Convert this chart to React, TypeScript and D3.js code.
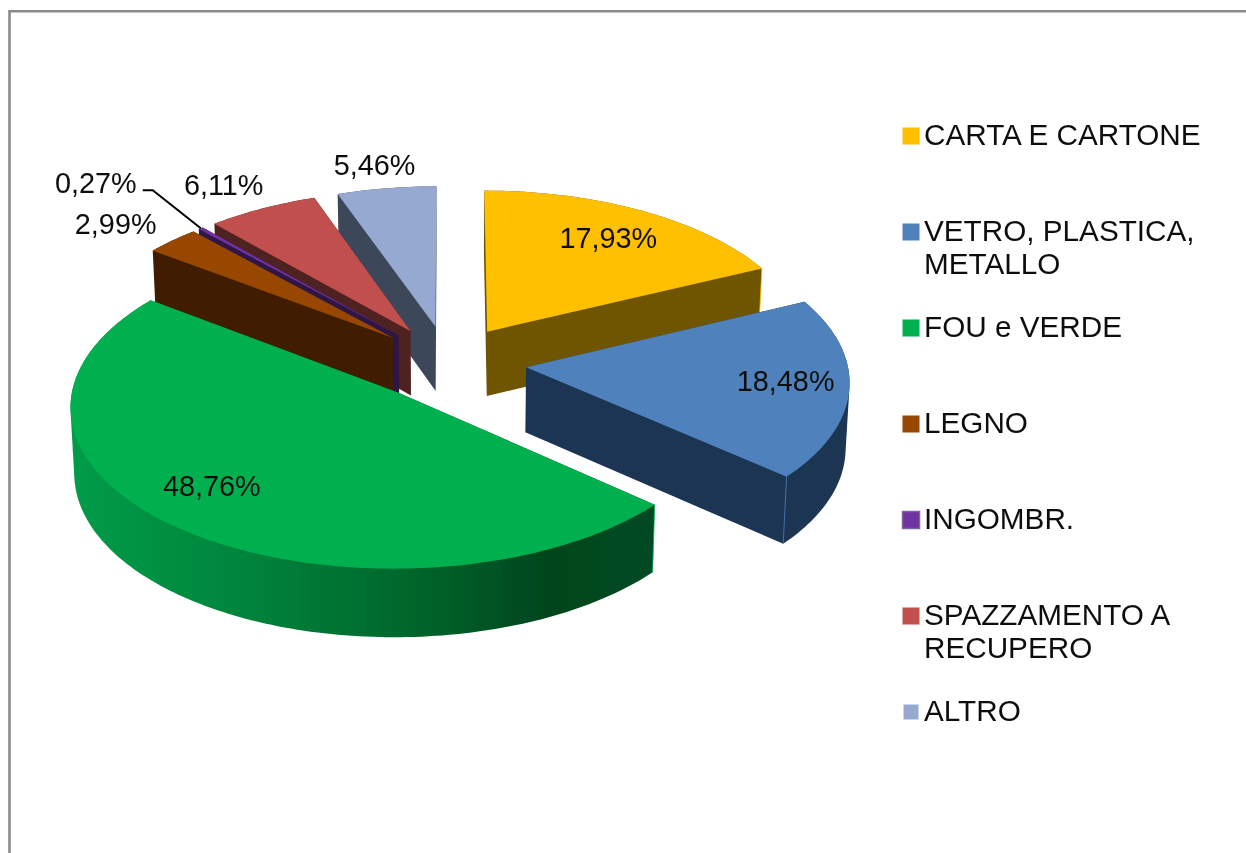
import React from "react";
import * as d3 from "d3";

const categories = ["CARTA E CARTONE", "VETRO, PLASTICA,|METALLO", "FOU e VERDE", "LEGNO", "INGOMBR.", "SPAZZAMENTO A|RECUPERO", "ALTRO"];
const shares = [17.93, 18.48, 48.76, 2.99, 0.27, 6.11, 5.46];
const explode = [0.232, 0.245, 0.245, 0.232, 0.232, 0.232, 0.232];
const topColors = ["#FFC000", "#4F81BD", "#00B050", "#974706", "#7030A0", "#C0504D", "#95A9D1"];
const wallColors = ["#6F5400", "#1F3552", "url(#greenWall)", "#3F1D00", "#2F1444", "#502120", "#3D475A"];
// label spot: radius along the slice bisector, then a small nudge
const labelRadius = [0.7, 0.7, 0.7, 1.2, 1.2, 1.2, 1.2];
const labelNudge = [[10, 2], [34, 9], [-34, 11], [-15, 12], [-68, -15], [-11, 9], [-3, 12]];
// back to front
const drawOrder = [6, 5, 4, 3, 0, 1, 2];

const W = 1246;
const H = 853;
const FONT = "'Liberation Sans', Arial, sans-serif";

// ground plane -> screen, with a bit of perspective towards the viewer
const cx = 448;
const cy = 362;
const Rx = 321;
const Ry = 157;
const persp = 0.08;
const depth = 65;

type Pt = [number, number];

const project = (u: number, v: number, bottom = false): Pt => {
  const w = 1 - persp * v;
  const x = cx + (Rx * u) / w;
  const y = cy + (Ry * v) / w;
  if (!bottom) return [x, y];
  return [cx + (x - cx) * 0.99, y + depth + 3 * v];
};

const polar = (a: number, r: number, e: number): Pt =>
  project((r + e) * Math.sin(a), -(r + e) * Math.cos(a));

// apex of an exploded slice
const apex = (mid: number, e: number, bottom = false): Pt =>
  project(e * Math.sin(mid), -e * Math.cos(mid), bottom);

const rimPoint = (a: number, mid: number, e: number, bottom = false): Pt =>
  project(Math.sin(a) + e * Math.sin(mid), -Math.cos(a) - e * Math.cos(mid), bottom);

const line = d3.line<Pt>();
const closed = (pts: Pt[]) => (line(pts) as string) + "Z";

const pie = d3.pie<number>().sort(null).value((d) => d).startAngle(0).endAngle(2 * Math.PI);
const arcs = pie(shares);

const angleSteps = (a0: number, a1: number) => {
  const n = Math.max(2, Math.ceil((a1 - a0) / 0.02));
  return d3.range(n + 1).map((i) => a0 + ((a1 - a0) * i) / n);
};

// only the corners on the front right catch the light
const litCorner = (a: number) => a > 1 && a < Math.PI;

const legendY = d3.scalePoint<string>().domain(categories).range([145, 721]);
const pct = (d: number) => d.toFixed(2).replace(".", ",") + "%";

const App: React.FC = () => {
  return (
    <svg width={W} height={H} style={{ position: "absolute", left: 0, top: 0, background: "#fff" }}>
      <defs>
        <linearGradient id="greenWall" gradientUnits="userSpaceOnUse" x1={70} x2={654} y1={0} y2={0}>
          <stop offset="0" stopColor="#019C49" />
          <stop offset="0.3" stopColor="#00843C" />
          <stop offset="0.62" stopColor="#006229" />
          <stop offset="0.82" stopColor="#00451E" />
          <stop offset="1" stopColor="#004A21" />
        </linearGradient>
        {/* the source is a resampled screenshot, so edges are a little soft */}
        <filter id="soft" x="0" y="0" width="100%" height="100%" filterUnits="userSpaceOnUse">
          <feGaussianBlur stdDeviation="0.4" />
        </filter>
      </defs>

      <g filter="url(#soft)">
        <path d="M9.5,853V11.3H1246" fill="none" stroke="#8A8A8A" strokeWidth={2.6} />

        {drawOrder.map((i) => {
          const a = arcs[i];
          const mid = (a.startAngle + a.endAngle) / 2;
          const e = explode[i];
          const steps = angleSteps(a.startAngle, a.endAngle);
          const topRim = steps.map((t) => rimPoint(t, mid, e));
          const botRim = steps.map((t) => rimPoint(t, mid, e, true));
          const A = apex(mid, e);
          const B = apex(mid, e, true);
          // every slice is under 180 degrees, so the hull is the whole solid
          const hull = d3.polygonHull([A, B, ...topRim, ...botRim]) as Pt[];
          const last = steps.length - 1;
          return (
            <g key={i}>
              <path d={closed(hull)} fill={wallColors[i]} />
              {[0, last]
                .filter((k) => litCorner(steps[k]))
                .map((k) => (
                  <path key={k} d={line([topRim[k], botRim[k]]) as string} stroke={topColors[i]} strokeWidth={0.8} fill="none" />
                ))}
              <path d={closed([A, ...topRim])} fill={topColors[i]} />
            </g>
          );
        })}

        {arcs.map((a, i) => {
          const mid = (a.startAngle + a.endAngle) / 2;
          const [x, y] = polar(mid, labelRadius[i], explode[i]);
          const lx = x + labelNudge[i][0];
          const ly = y + labelNudge[i][1];
          return (
            <g key={i}>
              {i === 4 && (
                <path
                  d={line([[lx + 47, ly - 3], [lx + 57, ly - 3], rimPoint(mid, mid, explode[i])]) as string}
                  fill="none"
                  stroke="#000"
                  strokeWidth={2}
                />
              )}
              <text x={lx} y={ly} textAnchor="middle" fontFamily={FONT} fontSize={28.8} fill="#111">
                {pct(shares[i])}
              </text>
            </g>
          );
        })}

        {categories.map((c, i) => {
          const y = legendY(c) as number;
          const size = i === 6 ? 15 : 17;
          return (
            <g key={c}>
              <rect
                x={911 - size / 2}
                y={y - 9 - size / 2}
                width={size}
                height={size}
                fill={topColors[i]}
                stroke={i === 4 ? "#8064A2" : "none"}
                strokeWidth={1.5}
              />
              <text x={924} y={y} fontFamily={FONT} fontSize={29.7} fill="#111">
                {c.split("|").map((t, k) => (
                  <tspan key={k} x={924} dy={k ? 33 : 0}>
                    {t}
                  </tspan>
                ))}
              </text>
            </g>
          );
        })}
      </g>
    </svg>
  );
};

export default App;
